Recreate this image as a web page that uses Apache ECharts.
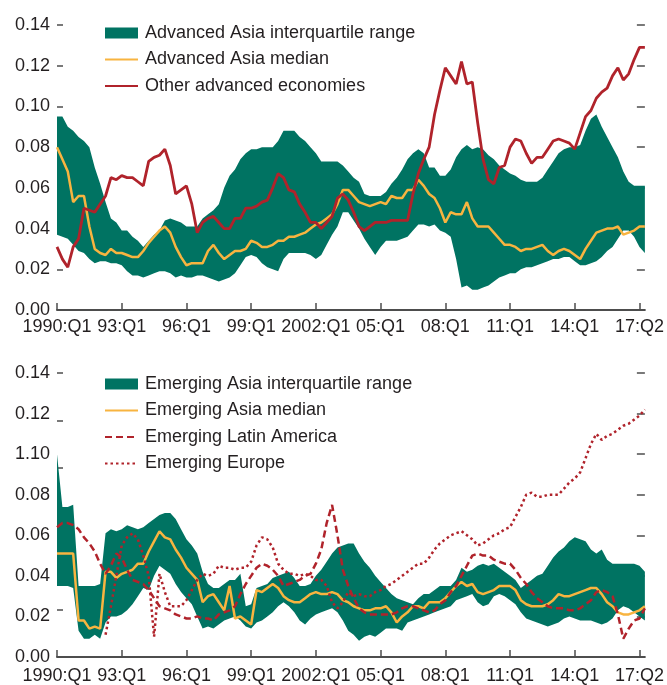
<!DOCTYPE html>
<html>
<head>
<meta charset="utf-8">
<script src="https://cdn.jsdelivr.net/npm/echarts@6/dist/echarts.min.js"></script>
<style>
  html, body { margin: 0; padding: 0; background: #fff; }
  #chart { width: 667px; height: 685px; }
</style>
</head>
<body>
<div id="chart"></div>
<script>
// quarters 1990:Q1 .. 2017:Q2
let quarters = [];
for (let y = 1990; y <= 2017; y++) {
  for (let q = 1; q <= 4; q++) {
    if (y === 2017 && q > 2) break;
    quarters.push(y + ':Q' + q);
  }
}
let xTickLabels = ['1990:Q1', '93:Q1', '96:Q1', '99:Q1', '2002:Q1', '05:Q1', '08:Q1', '11:Q1', '14:Q1', '17:Q2'];
let yTickLabelsTop = ['0.00', '0.02', '0.04', '0.06', '0.08', '0.10', '0.12', '0.14'];
let yTickLabelsBottom = ['0.00', '0.02', '0.04', '0.06', '0.08', '1.10', '0.12', '0.14'];

// top panel: advanced economies
let advUpper = [
  0.095, 0.095, 0.090, 0.088, 0.085, 0.083, 0.080, 0.070, 0.062, 0.053,
  0.045, 0.043, 0.039, 0.039, 0.036, 0.034, 0.031, 0.034, 0.037, 0.039,
  0.044, 0.045, 0.044, 0.043, 0.041, 0.041, 0.041, 0.045, 0.047, 0.049,
  0.052, 0.060, 0.066, 0.069, 0.074, 0.077, 0.079, 0.079, 0.080, 0.080,
  0.080, 0.083, 0.088, 0.088, 0.088, 0.085, 0.083, 0.080, 0.077, 0.073,
  0.073, 0.073, 0.073, 0.071, 0.068, 0.065, 0.063, 0.057, 0.056, 0.056,
  0.056, 0.058, 0.062, 0.065, 0.069, 0.074, 0.077, 0.079, 0.077, 0.070,
  0.070, 0.066, 0.066, 0.069, 0.075, 0.079, 0.081, 0.079, 0.080, 0.079,
  0.076, 0.074, 0.071, 0.069, 0.067, 0.066, 0.064, 0.063, 0.063, 0.063,
  0.065, 0.069, 0.073, 0.077, 0.079, 0.080, 0.080, 0.081, 0.088, 0.094,
  0.096, 0.090, 0.085, 0.080, 0.075, 0.068, 0.063, 0.061, 0.061, 0.061
];
let advLower = [
  0.037, 0.036, 0.035, 0.032, 0.029, 0.028, 0.025, 0.023, 0.024, 0.024,
  0.023, 0.023, 0.022, 0.019, 0.017, 0.017, 0.016, 0.017, 0.018, 0.019,
  0.019, 0.018, 0.016, 0.017, 0.016, 0.016, 0.017, 0.017, 0.016, 0.015,
  0.014, 0.015, 0.016, 0.018, 0.022, 0.026, 0.027, 0.026, 0.023, 0.021,
  0.020, 0.019, 0.025, 0.028, 0.028, 0.028, 0.028, 0.027, 0.025, 0.027,
  0.032, 0.037, 0.041, 0.048, 0.048, 0.044, 0.040, 0.035, 0.031, 0.027,
  0.031, 0.034, 0.034, 0.034, 0.035, 0.036, 0.039, 0.042, 0.042, 0.041,
  0.042, 0.039, 0.038, 0.036, 0.025, 0.011, 0.012, 0.010, 0.010, 0.011,
  0.012, 0.014, 0.016, 0.017, 0.018, 0.018, 0.020, 0.021, 0.021, 0.022,
  0.023, 0.024, 0.025, 0.025, 0.026, 0.026, 0.024, 0.022, 0.022, 0.023,
  0.024, 0.026, 0.029, 0.031, 0.035, 0.039, 0.039, 0.036, 0.031, 0.028
];
let advMedian = [
  0.080, 0.074, 0.068, 0.053, 0.056, 0.056, 0.041, 0.030, 0.028, 0.027,
  0.030, 0.028, 0.028, 0.027, 0.026, 0.026, 0.029, 0.033, 0.036, 0.039,
  0.041, 0.038, 0.031, 0.026, 0.022, 0.023, 0.023, 0.023, 0.029, 0.032,
  0.028, 0.025, 0.027, 0.029, 0.029, 0.030, 0.034, 0.033, 0.031, 0.031,
  0.032, 0.034, 0.034, 0.036, 0.036, 0.037, 0.038, 0.040, 0.042, 0.043,
  0.045, 0.047, 0.052, 0.059, 0.059, 0.056, 0.053, 0.052, 0.051, 0.052,
  0.053, 0.052, 0.056, 0.055, 0.055, 0.059, 0.059, 0.064, 0.061, 0.057,
  0.055, 0.050, 0.043, 0.048, 0.047, 0.047, 0.053, 0.045, 0.041, 0.041,
  0.041, 0.038, 0.035, 0.032, 0.032, 0.031, 0.029, 0.030, 0.030, 0.031,
  0.032, 0.029, 0.027, 0.029, 0.030, 0.029, 0.027, 0.025, 0.030, 0.034,
  0.038, 0.039, 0.040, 0.040, 0.041, 0.037, 0.038, 0.039, 0.041, 0.041
];
let advOther = [
  0.031, 0.025, 0.021, 0.031, 0.035, 0.050, 0.049, 0.048, 0.052, 0.056,
  0.065, 0.064, 0.066, 0.065, 0.065, 0.063, 0.061, 0.073, 0.075, 0.076,
  0.079, 0.071, 0.057, 0.059, 0.061, 0.052, 0.038, 0.043, 0.045, 0.046,
  0.043, 0.040, 0.040, 0.045, 0.045, 0.050, 0.050, 0.051, 0.053, 0.054,
  0.060, 0.067, 0.065, 0.059, 0.058, 0.052, 0.048, 0.043, 0.043, 0.040,
  0.043, 0.046, 0.055, 0.057, 0.054, 0.048, 0.041, 0.039, 0.041, 0.043,
  0.043, 0.043, 0.044, 0.044, 0.044, 0.044, 0.057, 0.067, 0.074, 0.080,
  0.096, 0.108, 0.119, 0.115, 0.111, 0.122, 0.111, 0.112, 0.092, 0.074,
  0.064, 0.062, 0.070, 0.071, 0.080, 0.084, 0.083, 0.077, 0.072, 0.075,
  0.075, 0.079, 0.083, 0.084, 0.083, 0.082, 0.079, 0.087, 0.095, 0.098,
  0.104, 0.107, 0.109, 0.115, 0.119, 0.113, 0.116, 0.123, 0.129, 0.129
];

// bottom panel: emerging economies
let emUpper = [
  0.100, 0.074, 0.074, 0.075, 0.035, 0.035, 0.035, 0.035, 0.036, 0.061,
  0.063, 0.062, 0.063, 0.065, 0.064, 0.063, 0.064, 0.066, 0.068, 0.070,
  0.071, 0.071, 0.068, 0.063, 0.058, 0.055, 0.051, 0.042, 0.036, 0.034,
  0.034, 0.036, 0.038, 0.038, 0.041, 0.025, 0.026, 0.034, 0.035, 0.036,
  0.039, 0.040, 0.041, 0.042, 0.039, 0.035, 0.035, 0.036, 0.040, 0.043,
  0.047, 0.051, 0.054, 0.055, 0.056, 0.056, 0.051, 0.047, 0.044, 0.040,
  0.037, 0.034, 0.031, 0.029, 0.028, 0.027, 0.026, 0.029, 0.031, 0.031,
  0.033, 0.035, 0.035, 0.035, 0.038, 0.044, 0.042, 0.043, 0.045, 0.046,
  0.045, 0.046, 0.044, 0.042, 0.040, 0.038, 0.034, 0.036, 0.038, 0.040,
  0.041, 0.045, 0.049, 0.052, 0.054, 0.057, 0.059, 0.058, 0.057, 0.053,
  0.051, 0.053, 0.048, 0.046, 0.046, 0.046, 0.046, 0.046, 0.045, 0.042
];
let emLower = [
  0.035, 0.035, 0.035, 0.034, 0.013, 0.009, 0.009, 0.011, 0.009, 0.017,
  0.020, 0.020, 0.021, 0.023, 0.026, 0.030, 0.034, 0.033, 0.040, 0.045,
  0.043, 0.041, 0.036, 0.032, 0.029, 0.026, 0.020, 0.014, 0.015, 0.014,
  0.016, 0.018, 0.019, 0.020, 0.018, 0.015, 0.014, 0.017, 0.018, 0.020,
  0.022, 0.025, 0.027, 0.025, 0.022, 0.018, 0.016, 0.019, 0.021, 0.022,
  0.023, 0.024, 0.022, 0.018, 0.013, 0.011, 0.008, 0.010, 0.011, 0.010,
  0.012, 0.014, 0.014, 0.014, 0.013, 0.017, 0.018, 0.019, 0.020, 0.021,
  0.022, 0.023, 0.024, 0.025, 0.028, 0.029, 0.030, 0.031, 0.027, 0.025,
  0.026, 0.030, 0.031, 0.030, 0.028, 0.026, 0.022, 0.019, 0.018, 0.017,
  0.016, 0.015, 0.016, 0.017, 0.019, 0.020, 0.019, 0.018, 0.018, 0.018,
  0.017, 0.016, 0.017, 0.019, 0.023, 0.025, 0.024, 0.022, 0.020, 0.018
];
let emMedian = [
  0.051, 0.051, 0.051, 0.051, 0.018, 0.018, 0.014, 0.015, 0.014, 0.042,
  0.042, 0.039, 0.041, 0.042, 0.043, 0.046, 0.046, 0.052, 0.057, 0.062,
  0.059, 0.058, 0.053, 0.049, 0.044, 0.041, 0.038, 0.027, 0.030, 0.031,
  0.027, 0.023, 0.035, 0.019, 0.020, 0.018, 0.016, 0.033, 0.032, 0.034,
  0.036, 0.034, 0.030, 0.028, 0.027, 0.027, 0.029, 0.031, 0.032, 0.031,
  0.031, 0.032, 0.031, 0.028, 0.027, 0.025, 0.024, 0.023, 0.023, 0.024,
  0.024, 0.025, 0.022, 0.017, 0.020, 0.022, 0.025, 0.025, 0.024, 0.027,
  0.027, 0.027, 0.029, 0.032, 0.035, 0.037, 0.035, 0.036, 0.032, 0.031,
  0.032, 0.033, 0.035, 0.035, 0.035, 0.033, 0.028, 0.026, 0.025, 0.025,
  0.025, 0.026, 0.028, 0.031, 0.030, 0.030, 0.031, 0.032, 0.033, 0.034,
  0.034, 0.031, 0.027, 0.025, 0.022, 0.021, 0.021, 0.022, 0.023, 0.025
];
let emLatAm = [
  0.064, 0.066, 0.066, 0.065, 0.063, 0.059, 0.056, 0.052, 0.046, 0.041,
  0.045, 0.051, 0.049, 0.043, 0.038, 0.037, 0.036, 0.033, 0.029, 0.025,
  0.024, 0.023, 0.021, 0.020, 0.019, 0.019, 0.020, 0.019, 0.019, 0.018,
  0.021, 0.022, 0.023, 0.025, 0.031, 0.036, 0.040, 0.044, 0.046, 0.045,
  0.043, 0.040, 0.035, 0.036, 0.037, 0.038, 0.040, 0.041, 0.046, 0.053,
  0.066, 0.075, 0.060, 0.043, 0.035, 0.029, 0.024, 0.022, 0.021, 0.021,
  0.021, 0.021, 0.021, 0.022, 0.024, 0.025, 0.025, 0.024, 0.023, 0.022,
  0.023, 0.026, 0.028, 0.032, 0.035, 0.040, 0.045, 0.050, 0.051, 0.050,
  0.050, 0.048, 0.047, 0.046, 0.046, 0.043, 0.039, 0.036, 0.032, 0.029,
  0.027, 0.025, 0.024, 0.024, 0.024, 0.023, 0.023, 0.024, 0.026, 0.028,
  0.032, 0.033, 0.032, 0.030, 0.021, 0.009, 0.014, 0.018, 0.019, 0.024
];
let emEurope = [
  null, null, null, null, null, null, null, null, null, 0.011,
  0.025, 0.040, 0.055, 0.059, 0.061, 0.058, 0.050, 0.040, 0.010, 0.041,
  0.032, 0.025, 0.025, 0.025, 0.028, 0.033, 0.038, 0.041, 0.040, 0.041,
  0.045, 0.044, 0.044, 0.043, 0.044, 0.044, 0.047, 0.055, 0.059, 0.058,
  0.054, 0.046, 0.043, 0.041, 0.041, 0.040, 0.041, 0.040, 0.038, 0.038,
  0.035, 0.027, 0.024, 0.027, 0.032, 0.030, 0.031, 0.030, 0.030, 0.032,
  0.033, 0.035, 0.036, 0.038, 0.040, 0.042, 0.044, 0.046, 0.046, 0.049,
  0.053, 0.056, 0.058, 0.060, 0.061, 0.062, 0.060, 0.058, 0.055, 0.056,
  0.058, 0.060, 0.061, 0.063, 0.064, 0.069, 0.074, 0.080, 0.081, 0.079,
  0.079, 0.080, 0.080, 0.080, 0.083, 0.086, 0.088, 0.091, 0.098, 0.105,
  0.110, 0.107, 0.109, 0.110, 0.112, 0.114, 0.115, 0.117, 0.119, 0.122
];

let green = '#007362';
let yellow = '#f8b440';
let red = '#b0232b';
let ink = '#231f20';
let axisGray = '#4d4d4d';
let font = "'Liberation Sans', Arial, sans-serif";

let diff = function (hi, lo) {
  return hi.map((v, i) => +(v - lo[i]).toFixed(4));
};

let tickEvery = function (index) { return index % 12 === 0; };

let xAxisFor = function (gridIndex, margin) {
  return {
    type: 'category',
    gridIndex: gridIndex,
    data: quarters,
    boundaryGap: false,
    axisLine: { lineStyle: { color: axisGray, width: 2 } },
    axisTick: { inside: true, length: 7, interval: tickEvery, lineStyle: { color: axisGray, width: 1.5 } },
    axisLabel: {
      interval: tickEvery,
      margin: margin,
      color: ink,
      fontSize: 18,
      fontFamily: font,
      formatter: function (value, index) { return xTickLabels[Math.round(index / 12)]; }
    },
    splitLine: { show: false }
  };
};

let tickAxis = function (gridIndex, position, max, len) {
  return {
    type: 'value',
    gridIndex: gridIndex,
    position: position,
    min: 0, max: max, interval: 0.02,
    axisLine: { show: false },
    axisTick: { show: true, inside: true, length: len, lineStyle: { color: axisGray, width: 1.5 } },
    axisLabel: { show: false },
    splitLine: { show: false }
  };
};

let labelAxis = function (gridIndex, labels, showTicks) {
  return {
    type: 'value',
    gridIndex: gridIndex,
    position: 'left',
    min: 0, max: 0.14, interval: 0.02,
    axisLine: { show: false },
    axisTick: { show: showTicks, inside: true, length: 6, lineStyle: { color: axisGray, width: 1.5 } },
    axisLabel: {
      margin: 7,
      color: ink,
      fontSize: 18,
      fontFamily: font,
      formatter: function (v) { return labels[Math.round(v / 0.02)]; }
    },
    splitLine: { show: false }
  };
};

let lineSeries = function (name, data, color, xi, yi, type, width) {
  return {
    name: name,
    type: 'line',
    xAxisIndex: xi,
    yAxisIndex: yi,
    data: data,
    symbol: 'none',
    connectNulls: false,
    lineStyle: { color: color, width: width, type: type },
    itemStyle: { color: color },
    silent: true
  };
};

let bandSeries = function (name, lo, hi, stack, xi, yi) {
  return [
    {
      name: stack + ' base',
      type: 'line',
      xAxisIndex: xi, yAxisIndex: yi,
      stack: stack,
      data: lo,
      symbol: 'none',
      lineStyle: { opacity: 0 },
      silent: true
    },
    {
      name: name,
      type: 'line',
      xAxisIndex: xi, yAxisIndex: yi,
      stack: stack,
      data: diff(hi, lo),
      symbol: 'none',
      lineStyle: { width: 0, opacity: 0 },
      areaStyle: { color: green, opacity: 1 },
      itemStyle: { color: green },
      silent: true
    }
  ];
};

// legend entries: a filled box for the band, bare lines for the rest
let bandItem = function (name) {
  return { name: name, icon: 'rect', itemStyle: { color: green, opacity: 1 } };
};
let lineItem = function (name) {
  return { name: name, itemStyle: { opacity: 0 } };
};

let legendFor = function (top, items) {
  return {
    orient: 'vertical',
    left: 104,
    top: top,
    padding: 0,
    itemWidth: 33,
    itemHeight: 11,
    itemGap: 6.5,
    selectedMode: false,
    textStyle: { color: ink, fontSize: 18, fontFamily: font, lineHeight: 20, padding: [0, 0, 0, 2] },
    data: items
  };
};

let chart = echarts.init(document.getElementById('chart'), null, { renderer: 'canvas' });

let option = {
  animation: false,
  backgroundColor: '#ffffff',
  grid: [
    { left: 57, width: 588, top: 25, height: 285 },
    { left: 57, width: 588, top: 373, height: 284.5 }
  ],
  legend: [
    legendFor(23, [
      bandItem('Advanced Asia interquartile range'),
      lineItem('Advanced Asia median'),
      lineItem('Other advanced economies')
    ]),
    legendFor(374, [
      bandItem('Emerging Asia interquartile range'),
      lineItem('Emerging Asia median'),
      lineItem('Emerging Latin America'),
      lineItem('Emerging Europe')
    ])
  ],
  xAxis: [xAxisFor(0, 8), xAxisFor(1, 10)],
  yAxis: [
    labelAxis(0, yTickLabelsTop, true),
    tickAxis(0, 'right', 0.14, 8),
    labelAxis(1, yTickLabelsBottom, false),
    tickAxis(1, 'left', 0.12, 6),
    tickAxis(1, 'right', 0.14, 8)
  ],
  series: [].concat(
    bandSeries('Advanced Asia interquartile range', advLower, advUpper, 'adv', 0, 0),
    [
      lineSeries('Advanced Asia median', advMedian, yellow, 0, 0, 'solid', 2.5),
      lineSeries('Other advanced economies', advOther, red, 0, 0, 'solid', 2.8)
    ],
    bandSeries('Emerging Asia interquartile range', emLower, emUpper, 'em', 1, 2),
    [
      lineSeries('Emerging Asia median', emMedian, yellow, 1, 2, 'solid', 2.5),
      lineSeries('Emerging Latin America', emLatAm, red, 1, 2, [7, 4], 2.5),
      lineSeries('Emerging Europe', emEurope, red, 1, 2, [2.5, 3], 2.5)
    ]
  )
};

chart.setOption(option);
</script>
</body>
</html>
